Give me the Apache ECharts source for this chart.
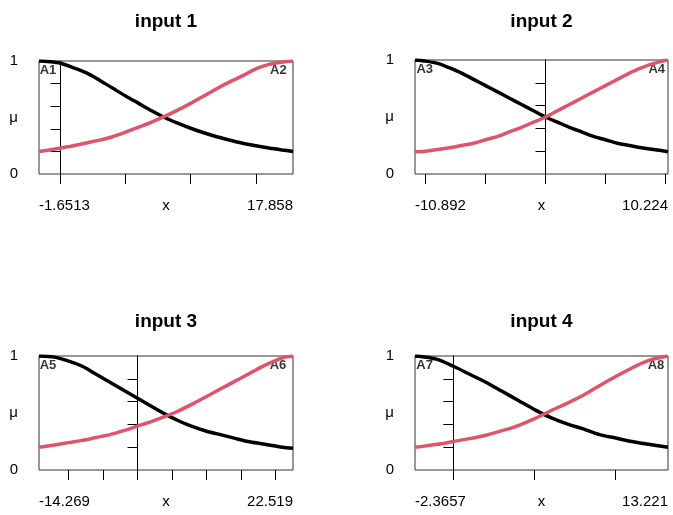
<!DOCTYPE html>
<html><head><meta charset="utf-8">
<script src="https://cdn.jsdelivr.net/npm/echarts@6/dist/echarts.min.js"></script>
<style>html,body{margin:0;padding:0;background:#fff}#c{width:673px;height:515px}</style>
</head><body><div id="c"></div>
<script>
// ---- data ----
const titles = ['input 1', 'input 2', 'input 3', 'input 4'];
const xRanges = [[-1.6513, 17.858], [-10.892, 10.224], [-14.269, 22.519], [-2.3657, 13.221]];
const xRangeLabels = [['-1.6513', '17.858'], ['-10.892', '10.224'], ['-14.269', '22.519'], ['-2.3657', '13.221']];
const xTicks = [[0, 5, 10, 15], [-10, -5, 0, 5, 10], [-10, -5, 0, 5, 10, 15, 20], [0, 5, 10]];
const yTicks = [0.2, 0.4, 0.6, 0.8];
const yLabels = [0, 1];
const setNames = [['A1', 'A2'], ['A3', 'A4'], ['A5', 'A6'], ['A7', 'A8']];
const setLabelX = [[-0.96, 16.73], [-10.08, 9.28], [-12.96, 20.34], [-1.77, 12.48]];

const x1 = [-1.6513, -1, 0, 1, 2, 3, 4, 5, 6, 7, 8, 9, 10, 11, 12, 13, 14, 15, 16, 17, 17.858];
const black1 = [1.0, 0.995, 0.98, 0.94, 0.895, 0.83, 0.76, 0.69, 0.625, 0.56, 0.50, 0.45, 0.405, 0.365, 0.33, 0.30, 0.272, 0.25, 0.23, 0.213, 0.20];
const red1 = [0.20, 0.21, 0.23, 0.25, 0.275, 0.30, 0.33, 0.37, 0.415, 0.46, 0.51, 0.565, 0.625, 0.69, 0.755, 0.815, 0.87, 0.93, 0.97, 0.99, 1.0];

const x2 = [-10.892, -10, -9, -8, -7, -6, -5, -4, -3, -2, -1, 0, 1, 2, 3, 4, 5, 6, 7, 8, 9, 10, 10.224];
const black2 = [1.0, 0.99, 0.97, 0.93, 0.885, 0.83, 0.775, 0.72, 0.665, 0.61, 0.555, 0.50, 0.455, 0.41, 0.37, 0.33, 0.30, 0.27, 0.25, 0.23, 0.215, 0.20, 0.196];
const red2 = [0.196, 0.20, 0.215, 0.23, 0.25, 0.27, 0.30, 0.33, 0.37, 0.41, 0.455, 0.50, 0.555, 0.61, 0.665, 0.72, 0.775, 0.83, 0.885, 0.93, 0.97, 0.995, 1.0];

const x3 = [-14.269, -12, -10, -8, -6, -4, -2, 0, 2, 4, 6, 8, 10, 12, 14, 16, 18, 20, 21, 22.519];
const black3 = [1.0, 0.99, 0.955, 0.91, 0.84, 0.77, 0.70, 0.63, 0.56, 0.49, 0.43, 0.38, 0.34, 0.31, 0.28, 0.25, 0.23, 0.21, 0.20, 0.19];
const red3 = [0.20, 0.22, 0.24, 0.26, 0.285, 0.31, 0.345, 0.385, 0.425, 0.47, 0.52, 0.58, 0.645, 0.71, 0.775, 0.84, 0.905, 0.96, 0.985, 1.0];

const x4 = [-2.3657, -2, -1, 0, 1, 2, 3, 4, 5, 6, 7, 8, 9, 10, 11, 12, 13.221];
const black4 = [1.0, 0.995, 0.97, 0.91, 0.84, 0.77, 0.69, 0.61, 0.53, 0.46, 0.405, 0.36, 0.31, 0.28, 0.25, 0.225, 0.20];
const red4 = [0.20, 0.205, 0.225, 0.25, 0.275, 0.305, 0.345, 0.39, 0.45, 0.52, 0.585, 0.655, 0.74, 0.82, 0.895, 0.96, 1.0];

const xs = [x1, x2, x3, x4];
const blacks = [black1, black2, black3, black4];
const reds = [red1, red2, red3, red4];

// ---- layout ----
const grids = [
  {left: 39, top: 61, width: 254, height: 113},
  {left: 415, top: 60, width: 253, height: 114},
  {left: 39, top: 356, width: 254, height: 114},
  {left: 415, top: 356, width: 253, height: 114}
];
const titleTops = [12, 12, 312, 312];
const FONT = 'Liberation Sans, Arial, sans-serif';
const txt = {color: '#000', fontFamily: FONT, fontSize: 15};

const option = {
  animation: false,
  backgroundColor: '#fff',
  title: [], grid: [], xAxis: [], yAxis: [], series: []
};

grids.forEach((g, i) => {
  option.title.push({
    text: titles[i], left: g.left + g.width / 2, top: titleTops[i], textAlign: 'center', padding: 0,
    textStyle: {color: '#000', fontFamily: FONT, fontSize: 19, fontWeight: 'bold'}
  });
  option.grid.push(Object.assign({show: true, borderColor: '#333', borderWidth: 1, backgroundColor: 'transparent',
    containLabel: false, outerBoundsMode: 'none'}, g));
  const labs = xRangeLabels[i];
  const rng = xRanges[i];
  option.xAxis.push({
    gridIndex: i, type: 'value', min: rng[0], max: rng[1],
    axisLine: {show: false, onZero: false},
    splitLine: {show: false},
    axisTick: {show: true, customValues: xTicks[i], length: 10, lineStyle: {color: '#000', width: 1}},
    axisLabel: Object.assign({
      show: true, customValues: rng, margin: 24, showMinLabel: true, showMaxLabel: true,
      alignMinLabel: 'left', alignMaxLabel: 'right',
      formatter: v => (Math.abs(v - rng[0]) < 1e-9 ? labs[0] : labs[1])
    }, txt),
    name: 'x', nameLocation: 'middle', nameGap: 24, nameMoveOverlap: false,
    nameTextStyle: Object.assign({verticalAlign: 'top'}, txt)
  });
  // y axis with labels 0 / 1 and μ
  option.yAxis.push({
    gridIndex: i, type: 'value', min: 0, max: 1, position: 'left',
    axisLine: {show: false, onZero: false}, axisTick: {show: false}, splitLine: {show: false},
    axisLabel: Object.assign({customValues: yLabels, margin: 21}, txt),
    name: 'μ', nameLocation: 'middle', nameRotate: 0, nameGap: 21, nameMoveOverlap: false,
    nameTextStyle: txt
  });
  // y axis drawn at x = 0
  option.yAxis.push({
    gridIndex: i, type: 'value', min: 0, max: 1, position: 'left',
    axisLine: {show: true, onZero: true, lineStyle: {color: '#000', width: 1}},
    axisTick: {show: true, customValues: yTicks, length: 10, lineStyle: {color: '#000', width: 1}},
    axisLabel: {show: false}, splitLine: {show: false}
  });
  option.series.push({
    type: 'scatter', xAxisIndex: i, yAxisIndex: 2 * i, z: 1, silent: true,
    symbolSize: 0,
    data: setNames[i].map((n, k) => ({name: n, value: [setLabelX[i][k], 1]})),
    label: {show: true, position: 'inside', offset: [0, 9], formatter: p => p.name,
      color: '#000', fontFamily: FONT, fontSize: 13, fontWeight: 'bold'}
  });
  option.series.push({
    type: 'line', xAxisIndex: i, yAxisIndex: 2 * i, z: 3, silent: true,
    data: xs[i].map((x, k) => [x, blacks[i][k]]),
    smooth: 0.3, showSymbol: false,
    lineStyle: {color: '#000', width: 3.5}
  });
  option.series.push({
    type: 'line', xAxisIndex: i, yAxisIndex: 2 * i, z: 4, silent: true,
    data: xs[i].map((x, k) => [x, reds[i][k]]),
    smooth: 0.3, showSymbol: false,
    lineStyle: {color: '#DF536B', width: 3.5}
  });
});

const chart = echarts.init(document.getElementById('c'), null, {renderer: 'canvas'});
chart.setOption(option);
</script>
</body></html>
